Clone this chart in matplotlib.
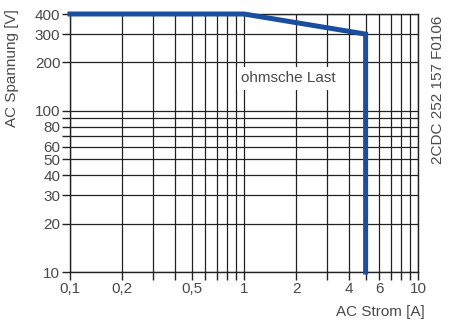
import numpy as np
import matplotlib.pyplot as plt
from matplotlib.ticker import FixedLocator, NullLocator

# Grenzkurve (ohmsche Last)
strom = [0.1, 1, 5, 5]
spannung = [400, 400, 300, 10]

x_grid = [0.1, 0.2, 0.3, 0.4, 0.5, 0.6, 0.7, 0.8, 0.9, 1, 2, 3, 4, 5, 6, 7, 8, 9, 10]
y_grid = [10, 20, 30, 40, 50, 60, 70, 80, 90, 100, 200, 300, 400]
x_labels = {0.1: '0,1', 0.2: '0,2', 0.5: '0,5', 1: '1', 2: '2', 4: '4', 6: '6', 10: '10'}
y_labels = {10: '10', 20: '20', 30: '30', 40: '40', 50: '50', 60: '60', 80: '80',
            100: '100', 200: '200', 300: '300', 400: '400'}

txt = '#4a4a4a'
fs = 11
plt.rcParams['font.family'] = ['Liberation Sans', 'DejaVu Sans']

fig = plt.figure(figsize=(4.51, 3.23), dpi=100)
ax = fig.add_axes([70 / 451, 51 / 323, 348 / 451, 258 / 323])

ax.set_xscale('log')
ax.set_yscale('log')
ax.set_xlim(0.1, 10)
ax.set_ylim(10, 400)

for v in x_grid:
    ax.axvline(v, color='#222222', lw=0.9, zorder=1)
for v in y_grid:
    ax.axhline(v, color='#222222', lw=0.9, zorder=1)

ax.xaxis.set_major_locator(FixedLocator(x_grid))
ax.xaxis.set_minor_locator(NullLocator())
ax.set_xticklabels([x_labels.get(v, '') for v in x_grid])
ax.yaxis.set_major_locator(FixedLocator(y_grid))
ax.yaxis.set_minor_locator(NullLocator())
ax.set_yticklabels([y_labels.get(v, '') for v in y_grid])

ax.tick_params(axis='both', direction='out', length=5.5, width=1, color='#222222',
               labelsize=fs, labelcolor=txt, pad=1.5)
for s in ax.spines.values():
    s.set_color('#222222')
    s.set_linewidth(1)

ax.plot(strom, spannung, color='#1a4fa0', lw=3.6, solid_joinstyle='miter',
        clip_on=False, zorder=5)

ax.text(1.8, 176, 'ohmsche Last', fontsize=fs, color=txt, ha='center', va='top',
        bbox=dict(facecolor='white', edgecolor='none', pad=3), zorder=3)

fig.text(12 / 451, 1 - 68 / 323, 'AC Spannung [V]', rotation=90, fontsize=fs,
         color=txt, ha='center', va='center')
fig.text(425 / 451, 1 - 312 / 323, 'AC Strom [A]', fontsize=fs, color=txt,
         ha='right', va='center')
fig.text(438 / 451, 1 - 90 / 323, '2CDC 252 157 F0106', rotation=90, fontsize=fs,
         color=txt, ha='center', va='center')

fig.savefig('out.png', dpi=100)
